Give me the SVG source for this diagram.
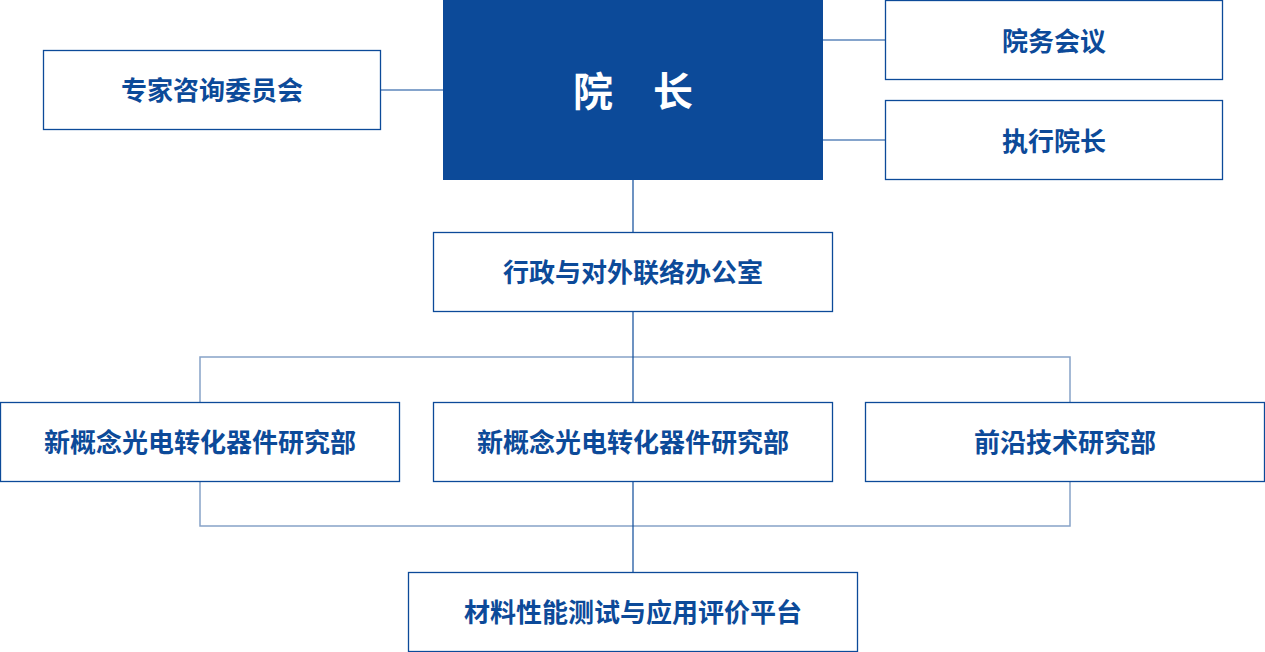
<svg xmlns="http://www.w3.org/2000/svg" width="1265" height="652" viewBox="0 0 1265 652">
<style>
.box{fill:#ffffff;stroke:#0c4a99;stroke-width:1.3}
.head{fill:#0c4a99}
.t{font-family:"Noto Sans CJK SC","Noto Sans",sans-serif;font-weight:bold;font-size:26px;fill:#0c4a99;text-anchor:middle;dominant-baseline:central}
.th{font-family:"Noto Sans CJK SC","Noto Sans",sans-serif;font-weight:bold;font-size:40px;fill:#ffffff;text-anchor:middle;dominant-baseline:central}
.c{fill:none;stroke:#0c4a99;stroke-width:1.2}
.cl{fill:none;stroke:#87a2c8;stroke-width:1.5}
</style>
<rect x="0" y="0" width="1265" height="652" fill="#ffffff"/>
<g id="connectors">
<line class="c" x1="381" y1="90" x2="443" y2="90"/>
<line class="c" x1="823" y1="40" x2="885" y2="40"/>
<line class="c" x1="823" y1="140" x2="885" y2="140"/>
<line class="c" x1="633" y1="180" x2="633" y2="232"/>
<polyline class="cl" points="200,402 200,357 1070,357 1070,402"/>
<polyline class="cl" points="200,481 200,526 1070,526 1070,481"/>
<line class="c" x1="633" y1="311" x2="633" y2="402"/>
<line class="c" x1="633" y1="481" x2="633" y2="572"/>
</g>
<g id="president">
<rect class="head" x="443" y="0" width="380" height="180"/>
<text class="th" x="633" y="89">院　长</text>
</g>
<g id="expert">
<rect class="box" x="43.5" y="50.5" width="337" height="79"/>
<text class="t" x="212" y="88">专家咨询委员会</text>
</g>
<g id="council">
<rect class="box" x="885.5" y="0.5" width="337" height="79"/>
<text class="t" x="1054" y="39">院务会议</text>
</g>
<g id="exec">
<rect class="box" x="885.5" y="100.5" width="337" height="79"/>
<text class="t" x="1054" y="139">执行院长</text>
</g>
<g id="office">
<rect class="box" x="433.5" y="232.5" width="399" height="79"/>
<text class="t" x="633" y="270">行政与对外联络办公室</text>
</g>
<g id="dept1">
<rect class="box" x="0.5" y="402.5" width="399" height="79"/>
<text class="t" x="200" y="440">新概念光电转化器件研究部</text>
</g>
<g id="dept2">
<rect class="box" x="433.5" y="402.5" width="399" height="79"/>
<text class="t" x="633" y="440">新概念光电转化器件研究部</text>
</g>
<g id="dept3">
<rect class="box" x="865.5" y="402.5" width="399" height="79"/>
<text class="t" x="1065" y="440">前沿技术研究部</text>
</g>
<g id="platform">
<rect class="box" x="408.5" y="572.5" width="449" height="79"/>
<text class="t" x="633" y="610">材料性能测试与应用评价平台</text>
</g>
</svg>
